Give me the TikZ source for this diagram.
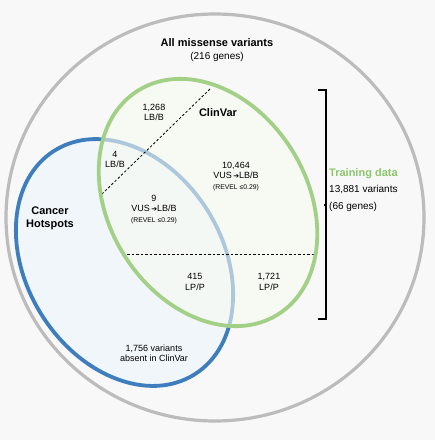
\documentclass[tikz,border=0pt]{standalone}
\usepackage{fontspec}
\setmainfont{Liberation Sans}
\newfontfamily\symfont{DejaVu Sans}
\usetikzlibrary{positioning}
\definecolor{grisBorde}{RGB}{188,188,188}
\definecolor{azulHot}{RGB}{62,126,190}
\definecolor{azulFondo}{RGB}{240,246,250}
\definecolor{verdeClin}{RGB}{163,208,135}
\definecolor{verdeFondo}{RGB}{247,250,240}
\definecolor{verdeTexto}{RGB}{140,198,106}
\definecolor{fondoGris}{RGB}{248,248,248}
\newcommand{\vustolb}{VUS\,{\symfont\fontsize{7}{8}\selectfont ➔}LB/B}
\newcommand{\revel}{{\fontsize{6.8}{8}\selectfont (REVEL ≤0.29)}}
\tikzset{
  vd/outer/.style={draw=grisBorde, line width=3.2pt},
  vd/hot/.style={draw=azulHot, fill=azulFondo, line width=3.8pt},
  vd/clinfill/.style={fill=verdeFondo, fill opacity=0.6},
  vd/clin/.style={draw=verdeClin, line width=3.8pt},
  vd/cut/.style={dash pattern=on 2.5pt off 2pt, line width=0.8pt},
  vd/brace/.style={line width=1.2pt},
  vd/head/.style={font=\fontsize{11}{13}\selectfont\bfseries, align=center,
    inner sep=0pt},
  vd/sub/.style={font=\fontsize{10}{16.5}\selectfont, align=left,
    inner sep=0pt},
  vd/lbl/.style={font=\fontsize{9}{10.5}\selectfont, align=center,
    inner sep=0pt}
}
\begin{document}
\begin{tikzpicture}[x=1pt, y=-1pt]
  \fill[fondoGris] (0,0) rectangle (435,440);
  \useasboundingbox (0,0) rectangle (435,440);

  \coordinate (allC)  at (215,217.5);
  \coordinate (hotC)  at (124.5,262.5);
  \coordinate (clinC) at (208,202.5);

  % sets
  \draw[vd/outer] (allC) circle [x radius=209pt, y radius=203.5pt];
  \draw[vd/hot, rotate around={32:(hotC)}] (hotC)
    circle [x radius=98pt, y radius=132pt];
  \fill[vd/clinfill, rotate around={32:(clinC)}] (clinC)
    circle [x radius=99pt, y radius=132pt];

  % cuts inside ClinVar
  \coordinate (cutA) at (210,89);
  \coordinate (cutB) at (102,194);
  \coordinate (cutC) at (127,254);
  \coordinate (cutD) at (314,254);
  \draw[vd/cut] (cutA) -- (cutB);
  \draw[vd/cut] (cutC) -- (cutD);

  \draw[vd/clin, rotate around={32:(clinC)}] (clinC)
    circle [x radius=99pt, y radius=132pt];

  % bracket
  \draw[vd/brace] (318,90) -- (326,90) -- (326,319) -- (318,319);
  \draw[vd/brace] (326,205) -- (323.5,205);

  % labels
  \node[vd/head] (allmis) at (217,50) {All missense variants\\
        {\mdseries\fontsize{10}{12}\selectfont (216 genes)}};
  \node[vd/head] (clinvar) at (218,113) {ClinVar};
  \node[vd/head] (hotspots) at (50,218) {Cancer\\Hotspots};
  \node[vd/lbl] (lbA) at (154,112.5) {1,268\\LB/B};
  \node[vd/lbl] (lbB) at (115,159.5) {4\\LB/B};
  \node[vd/lbl] (vusA) at (236,176.5) {10,464\\\vustolb\\\revel};
  \node[vd/lbl] (vusB) at (154,209.5) {9\\\vustolb\\\revel};
  \node[vd/lbl] (lpA) at (195,282) {415\\LP/P};
  \node[vd/lbl] (lpB) at (269,282) {1,721\\LP/P};
  \node[vd/lbl] (absent) at (154,353.5) {1,756 variants\\absent in ClinVar};
  \node[vd/sub, anchor=west] (train) at (329,190)
        {\textcolor{verdeTexto}{\bfseries\fontsize{11}{16.5}\selectfont Training data}\\
         13,881 variants\\(66 genes)};
\end{tikzpicture}
\end{document}
